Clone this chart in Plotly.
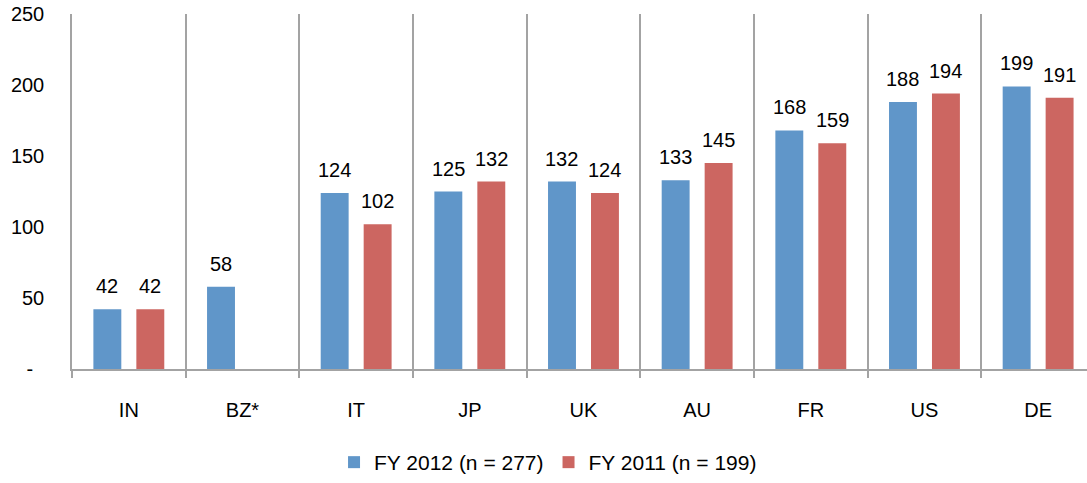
import plotly.graph_objects as go

categories = ["IN", "BZ*", "IT", "JP", "UK", "AU", "FR", "US", "DE"]
fy2012 = [42, 58, 124, 125, 132, 133, 168, 188, 199]
fy2011 = [42, None, 102, 132, 124, 145, 159, 194, 191]

y_ticks = [0, 50, 100, 150, 200, 250]
y_ticktext = ["-\u00a0\u00a0", "50", "100", "150", "200", "250"]

BLUE = "#6096C9"
RED = "#CC6661"
GRID = "#A3A3A3"
FONT = "Liberation Sans, Arial, sans-serif"

fig = go.Figure()
fig.add_trace(go.Bar(
    x=categories, y=fy2012, name="FY 2012 (n = 277)",
    marker=dict(color=BLUE, line=dict(width=0)),
))
fig.add_trace(go.Bar(
    x=categories, y=fy2011, name="FY 2011 (n = 199)",
    marker=dict(color=RED, line=dict(width=0)),
))

# value labels above each bar (half a bar slot left / right of the category centre)
for vals, shift in ((fy2012, -21.5), (fy2011, 21.5)):
    for cat, v in zip(categories, vals):
        if v is None:
            continue
        fig.add_annotation(
            x=cat, y=v, text=str(v), showarrow=False,
            xshift=shift, yshift=10, yanchor="bottom",
            font=dict(size=20, color="#000000"),
        )

fig.update_layout(
    width=1087, height=483,
    margin=dict(l=72, r=0, t=14, b=113),
    paper_bgcolor="white", plot_bgcolor="white",
    font=dict(family=FONT, size=20, color="#000000"),
    barmode="group", bargap=0.244, bargroupgap=0.35,
    showlegend=True,
    legend=dict(orientation="h", x=0.469, xanchor="center", y=-0.262, yanchor="middle",
                font=dict(size=21), traceorder="normal"),
)
fig.update_xaxes(
    type="category", range=[-0.5, 8.43], automargin=False,
    tickson="boundaries", ticks="outside", ticklen=7, tickcolor=GRID, tickwidth=1.5,
    showgrid=True, gridcolor=GRID, gridwidth=1.5,
    showline=True, linecolor=GRID, linewidth=1.5,
    ticklabelstandoff=22, tickfont=dict(size=20),
)
fig.update_yaxes(
    range=[0, 250], tickvals=y_ticks, ticktext=y_ticktext, automargin=False,
    showgrid=False, zeroline=False, ticklabeloverflow="allow",
    showline=True, linecolor=GRID, linewidth=1.5,
    ticks="", ticklabelstandoff=22, tickfont=dict(size=20),
)

# drop the browser's default 8px body margin so the figure sits at the page corner
fig.write_html("out.html", config={"displayModeBar": False},
               post_script="document.body.style.margin = '0';")
